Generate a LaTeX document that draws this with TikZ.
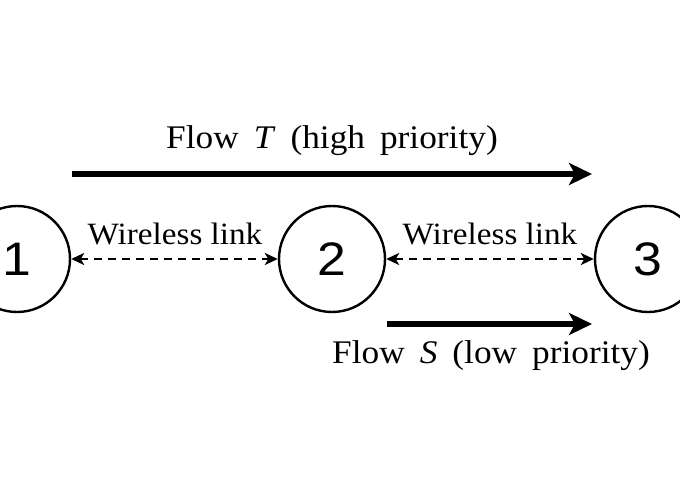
\documentclass[tikz,border=0pt]{standalone}
\usepackage{fontspec}
\setmainfont{Liberation Serif}[FakeStretch=1.07]
\newfontfamily\flowfont{Liberation Serif}[FakeStretch=1.07,WordSpace=1.7]
\newfontfamily\numfont{Liberation Sans}[FakeStretch=1.1]
\usetikzlibrary{arrows.meta}
\tikzset{
  nd/.style={circle, draw, line width=2.4pt, minimum size=106pt, inner sep=0pt, font=\numfont\fontsize{47}{47}\selectfont},
  wl/.style={dashed, dash pattern=on 8pt off 6pt, line width=2.2pt, {Stealth[length=13pt,width=12pt,inset=3.5pt]}-{Stealth[length=13pt,width=12pt,inset=3.5pt]}},
  flow/.style={line width=5.5pt, -{Stealth[length=23pt,width=22pt,inset=6pt]}},
  lbl/.style={font=\flowfont\fontsize{33}{33}\selectfont, inner sep=0pt, anchor=base},
  wlbl/.style={font=\fontsize{31}{31}\selectfont, inner sep=0pt, anchor=base}
}
\begin{document}
\begin{tikzpicture}[x=1pt,y=-1pt]
\useasboundingbox (0,0) rectangle (680,500);
\node[nd] (n1) at (17,259) {1};
\node[nd] (n2) at (332,259) {2};
\node[nd] (n3) at (648,259) {3};
\draw[wl] (n1) -- (n2);
\draw[wl] (n2) -- (n3);
\node[wlbl] (w1) at (175,244) {Wireless link};
\node[wlbl] (w2) at (490,244) {Wireless link};
\coordinate (t1) at (72,174);
\coordinate (t2) at (592,174);
\draw[flow] (t1) -- (t2);
\node[lbl] (tl) at (332,149) {Flow \textit{T} (high priority)};
\coordinate (s1) at (387,324);
\coordinate (s2) at (592,324);
\draw[flow] (s1) -- (s2);
\node[lbl] (sl) at (491,363) {Flow \textit{S} (low priority)};
\end{tikzpicture}
\end{document}
